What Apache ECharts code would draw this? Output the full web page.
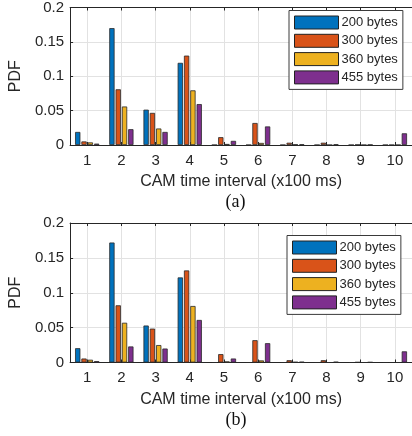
<!DOCTYPE html>
<html><head><meta charset="utf-8">
<script src="https://cdn.jsdelivr.net/npm/echarts@6/dist/echarts.min.js"></script>
<style>html,body{margin:0;padding:0;background:#fff}#c{width:412px;height:436px}</style>
</head><body><div id="c"></div>
<script>
// ---- data ----
const categories = ['1','2','3','4','5','6','7','8','9','10'];
const seriesNames = ['200 bytes','300 bytes','360 bytes','455 bytes'];
const panelLabels = ['(a)','(b)'];
const xAxisTitle = 'CAM time interval (x100 ms)';
const yAxisTitle = 'PDF';
const yMin = 0, yMax = 0.2, yStep = 0.05;

const a200 = [0.019, 0.170, 0.0514, 0.1195, 0, 0, 0, 0, 0, 0];
const a300 = [0.0052, 0.081, 0.0467, 0.130, 0.0114, 0.032, 0.0033, 0.0033, 0.0005, 0];
const a360 = [0.0038, 0.056, 0.024, 0.0795, 0.0015, 0.003, 0.0008, 0, 0, 0];
const a455 = [0.002, 0.023, 0.019, 0.0595, 0.006, 0.027, 0.001, 0.001, 0.0005, 0.017];

const b200 = [0.0205, 0.172, 0.053, 0.122, 0, 0, 0, 0, 0, 0];
const b300 = [0.0057, 0.082, 0.0486, 0.132, 0.012, 0.032, 0.0033, 0.0033, 0.0005, 0];
const b360 = [0.004, 0.057, 0.025, 0.081, 0.0015, 0.003, 0.0008, 0, 0, 0];
const b455 = [0.002, 0.023, 0.020, 0.061, 0.0057, 0.0277, 0.001, 0.001, 0.0005, 0.016];

const panelData = [[a200, a300, a360, a455], [b200, b300, b360, b455]];

// ---- style ----
const colors = ['#0072BD','#D95319','#EDB120','#7E2F8E'];
const ink = '#262626';
const gridColor = '#e2e2e2';
const sans = '"Liberation Sans", Arial, sans-serif';
const serif = '"Liberation Serif", "Times New Roman", serif';

const grids = [
  {left: 62, top: 5, width: 353, height: 140},
  {left: 62, top: 223, width: 353, height: 139.5}
];
const legendPos = [
  {left: 289, top: 10.5, itemGap: 4.3},
  {left: 287, top: 235.5, itemGap: 4.3}
];

const xAxes = [], yAxes = [], series = [], legends = [], graphics = [];
grids.forEach((g, i) => {
  xAxes.push({
    type: 'category', gridIndex: i, data: categories, position: 'bottom',
    boundaryGap: true,
    axisLine: {show: true, lineStyle: {color: ink, width: 1}},
    axisTick: {show: true, inside: true, length: 3, alignWithLabel: true, lineStyle: {color: ink}},
    axisLabel: {color: ink, fontSize: 15, fontFamily: sans, margin: 8},
    splitLine: {show: true, alignWithLabel: true, lineStyle: {color: gridColor, width: 1}},
    name: xAxisTitle, nameLocation: 'middle', nameGap: 29,
    nameTextStyle: {color: ink, fontSize: 16, fontFamily: sans}
  });
  xAxes.push({
    type: 'category', gridIndex: i, data: categories, position: 'top',
    boundaryGap: true,
    axisLine: {show: true, lineStyle: {color: ink, width: 1}},
    axisTick: {show: true, inside: true, length: 3, alignWithLabel: true, lineStyle: {color: ink}},
    axisLabel: {show: false}, splitLine: {show: false}
  });
  yAxes.push({
    type: 'value', gridIndex: i, min: yMin, max: yMax, interval: yStep,
    axisLine: {show: true, lineStyle: {color: ink, width: 1}},
    axisTick: {show: true, inside: true, length: 3, lineStyle: {color: ink}},
    axisLabel: {color: ink, fontSize: 15, fontFamily: sans, margin: 6},
    splitLine: {show: true, lineStyle: {color: gridColor, width: 1}},
    name: yAxisTitle, nameLocation: 'middle', nameGap: 40, nameRotate: 90,
    nameTextStyle: {color: ink, fontSize: 16, fontFamily: sans}
  });
  panelData[i].forEach((arr, k) => {
    series.push({
      type: 'bar', name: seriesNames[k], xAxisIndex: i * 2, yAxisIndex: i,
      data: arr, barWidth: 5.3, barGap: '19%',
      itemStyle: {color: colors[k], borderColor: '#2a2a2a', borderWidth: 0.8},
      emphasis: {disabled: true}, animation: false
    });
  });
  legends.push({
    orient: 'vertical', left: legendPos[i].left, top: legendPos[i].top,
    itemWidth: 44, itemHeight: 13, itemGap: legendPos[i].itemGap,
    padding: [5, 5, 5, 5], backgroundColor: '#fff',
    borderColor: '#3a3a3a', borderWidth: 1, borderRadius: 0,
    icon: 'rect', selectedMode: false,
    data: seriesNames,
    itemStyle: {borderColor: '#222', borderWidth: 1},
    textStyle: {color: ink, fontSize: 13, fontFamily: sans, padding: [0, 0, 0, -2]}
  });
  graphics.push({
    type: 'text', left: 225.5, top: i === 0 ? 193 : 411,
    style: {text: panelLabels[i], fill: '#111', font: '18px ' + serif}
  });
});

const chart = echarts.init(document.getElementById('c'), null, {renderer: 'canvas'});
chart.setOption({
  animation: false,
  backgroundColor: '#fff',
  color: colors,
  grid: grids.map(g => Object.assign({containLabel: false}, g)),
  xAxis: xAxes, yAxis: yAxes, series: series, legend: legends, graphic: graphics
});
</script></body></html>
